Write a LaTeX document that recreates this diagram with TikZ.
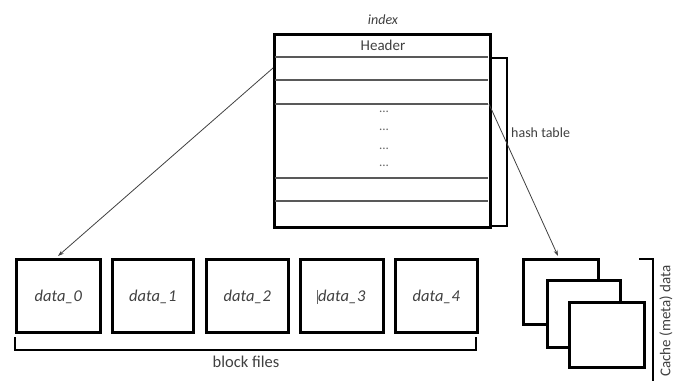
\documentclass[tikz,border=0pt]{standalone}
\usepackage{fontspec}
\setmainfont{Carlito}
\usetikzlibrary{arrows.meta}
\definecolor{txt}{HTML}{404040}
\tikzset{
  thick box/.style={draw=black,line width=2.8pt,fill=white},
  thin row/.style={draw=black!65,line width=1.1pt},
  brack/.style={draw=black,line width=2.8pt},
  lbl/.style={text=txt,font=\fontsize{15}{17}\selectfont,inner sep=0pt},
  dlbl/.style={text=txt,font=\fontsize{16.5}{18}\selectfont\itshape,inner sep=0pt},
  conn/.style={draw=black!75,line width=0.8pt,-{Stealth[length=6pt,width=4pt]}},
}
\begin{document}
\begin{tikzpicture}[x=1pt,y=-1pt]
\useasboundingbox (0,0) rectangle (680,381);
% index box
\node[thick box,minimum width=216pt,minimum height=193pt,inner sep=0pt,anchor=north west] (idx) at (273,33) {};
\foreach \yy/\n in {57/a,80/b,104/c,178/d,201/e} {
  \coordinate (L\n) at (274.5,\yy);
  \coordinate (R\n) at (487.5,\yy);
  \draw[thin row] (L\n) -- (R\n);
}
\node[dlbl,font=\fontsize{14}{16}\selectfont\itshape] (idxl) at (383,20) {index};
\node[lbl] (hdr) at (383,45) {Header};
\foreach \yy/\n in {115/1,133/2,152/3,169/4} \node[lbl,text=black!60,font=\fontsize{13}{13}\selectfont] (dots\n) at (384,\yy-3) {...};
% hash table bracket
\draw[brack] (489,58) -- (507,58) -- (507,226) -- (489,226);
\node[lbl,font=\fontsize{14}{16}\selectfont,anchor=west] (ht) at (511,133) {hash table};
% data boxes
\foreach \x/\w/\n in {15/84/0,111/81/1,205/82/2,299/83/3,394/82/4} {
  \node[thick box,minimum width=\w pt,minimum height=73pt,inner sep=0pt,anchor=north west] (d\n) at (\x,258) {};
  \node[dlbl] (dl\n) at ([yshift=-1pt]d\n.center) {data\_\n};
}
\draw[black!60,line width=0.6pt] ([xshift=-0.5pt]dl3.north west) -- ([xshift=-0.5pt]dl3.south west);
% block files bracket
\draw[brack] (15,337) -- (15,350) -- (476,350) -- (476,337);
\node[lbl,font=\fontsize{16.5}{18}\selectfont] (bf) at (246,362) {block files};
% cache boxes
\node[thick box,minimum width=75pt,minimum height=65pt,inner sep=0pt,anchor=north west] (c1) at (522,258) {};
\node[thick box,minimum width=73pt,minimum height=67pt,inner sep=0pt,anchor=north west] (c2) at (546,279) {};
\node[thick box,minimum width=75pt,minimum height=65pt,inner sep=0pt,anchor=north west] (c3) at (568,301) {};
\draw[brack] (639,259) -- (653,259) -- (653,381);
\node[lbl,rotate=90] (cm) at (666,321) {Cache (meta) data};
% connectors
\coordinate (src1) at (273,68);
\coordinate (dst1) at (58,256);
\draw[conn] (src1) -- (dst1);
\coordinate (src2) at (489,104);
\coordinate (dst2) at (558,256);
\draw[conn] (src2) -- (dst2);
\end{tikzpicture}
\end{document}
